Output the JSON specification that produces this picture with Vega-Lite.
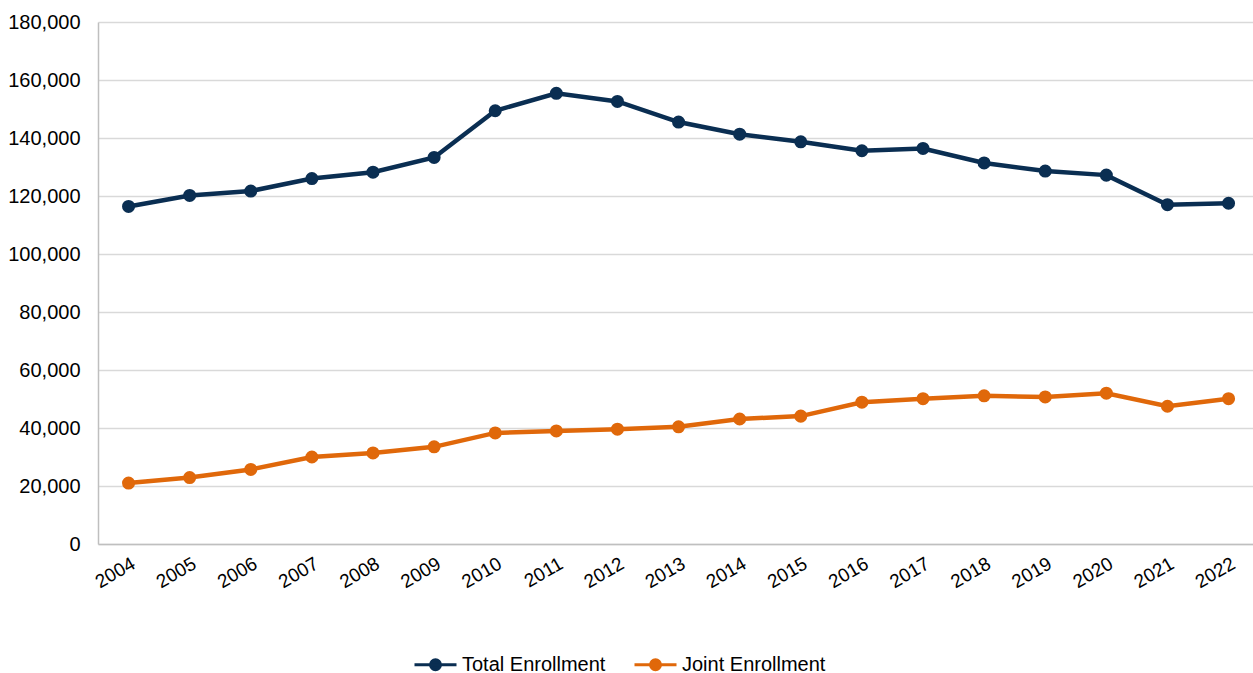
{
  "$schema": "https://vega.github.io/schema/vega-lite/v6.json",
  "autosize": {"type": "none"},
  "padding": {"left": 98, "top": 22, "right": 0, "bottom": 129},
  "width": 1155,
  "height": 522,
  "background": "white",
  "config": {"view": {"stroke": null}, "font": "Liberation Sans"},
  "data": {"values": [
    {"year": 2004, "series": "Total Enrollment", "value": 116400},
    {"year": 2005, "series": "Total Enrollment", "value": 120200},
    {"year": 2006, "series": "Total Enrollment", "value": 121700},
    {"year": 2007, "series": "Total Enrollment", "value": 126000},
    {"year": 2008, "series": "Total Enrollment", "value": 128200},
    {"year": 2009, "series": "Total Enrollment", "value": 133300},
    {"year": 2010, "series": "Total Enrollment", "value": 149400},
    {"year": 2011, "series": "Total Enrollment", "value": 155400},
    {"year": 2012, "series": "Total Enrollment", "value": 152600},
    {"year": 2013, "series": "Total Enrollment", "value": 145500},
    {"year": 2014, "series": "Total Enrollment", "value": 141300},
    {"year": 2015, "series": "Total Enrollment", "value": 138700},
    {"year": 2016, "series": "Total Enrollment", "value": 135600},
    {"year": 2017, "series": "Total Enrollment", "value": 136400},
    {"year": 2018, "series": "Total Enrollment", "value": 131400},
    {"year": 2019, "series": "Total Enrollment", "value": 128600},
    {"year": 2020, "series": "Total Enrollment", "value": 127200},
    {"year": 2021, "series": "Total Enrollment", "value": 117000},
    {"year": 2022, "series": "Total Enrollment", "value": 117500},
    {"year": 2004, "series": "Joint Enrollment", "value": 21000},
    {"year": 2005, "series": "Joint Enrollment", "value": 22900},
    {"year": 2006, "series": "Joint Enrollment", "value": 25700},
    {"year": 2007, "series": "Joint Enrollment", "value": 30000},
    {"year": 2008, "series": "Joint Enrollment", "value": 31400},
    {"year": 2009, "series": "Joint Enrollment", "value": 33500},
    {"year": 2010, "series": "Joint Enrollment", "value": 38300},
    {"year": 2011, "series": "Joint Enrollment", "value": 39000},
    {"year": 2012, "series": "Joint Enrollment", "value": 39600},
    {"year": 2013, "series": "Joint Enrollment", "value": 40400},
    {"year": 2014, "series": "Joint Enrollment", "value": 43100},
    {"year": 2015, "series": "Joint Enrollment", "value": 44100},
    {"year": 2016, "series": "Joint Enrollment", "value": 48900},
    {"year": 2017, "series": "Joint Enrollment", "value": 50100},
    {"year": 2018, "series": "Joint Enrollment", "value": 51100},
    {"year": 2019, "series": "Joint Enrollment", "value": 50700},
    {"year": 2020, "series": "Joint Enrollment", "value": 52000},
    {"year": 2021, "series": "Joint Enrollment", "value": 47500},
    {"year": 2022, "series": "Joint Enrollment", "value": 50100}
  ]},
  "encoding": {
    "x": {
      "field": "year", "type": "quantitative",
      "scale": {"domain": [2003.5, 2022.4], "nice": false, "zero": false},
      "axis": {
        "values": [2004,2005,2006,2007,2008,2009,2010,2011,2012,2013,2014,2015,2016,2017,2018,2019,2020,2021,2022],
        "format": "d", "labelAngle": -30, "ticks": false, "grid": false,
        "domainColor": "#bfbfbf", "domainWidth": 1.5,
        "labelFontSize": 19, "labelColor": "#000000", "labelPadding": 10, "title": null
      }
    },
    "y": {
      "field": "value", "type": "quantitative",
      "scale": {"domain": [0, 180000], "nice": false},
      "axis": {
        "values": [0,20000,40000,60000,80000,100000,120000,140000,160000,180000],
        "format": ",.0f", "ticks": false, "gridColor": "#d9d9d9", "gridWidth": 1.5,
        "domainColor": "#bfbfbf", "domainWidth": 1.5,
        "labelFontSize": 20, "labelColor": "#000000", "labelPadding": 18, "title": null
      }
    },
    "color": {
      "field": "series", "type": "nominal",
      "scale": {"domain": ["Total Enrollment", "Joint Enrollment"], "range": ["#0a2e52", "#e0680a"]},
      "legend": {
        "title": null, "orient": "none", "direction": "horizontal",
        "legendX": 326, "legendY": 631,
        "labelFontSize": 20, "labelColor": "#000000", "labelOffset": 15, "labelLimit": 400,
        "columnPadding": 22,
        "symbolType": "M-2.1,0L2.1,0M-0.5,0A0.5,0.5,0,1,1,0.5,0A0.5,0.5,0,1,1,-0.5,0Z",
        "symbolSize": 400, "symbolStrokeWidth": 3,
        "encode": {"symbols": {"update": {
          "fill": {"scale": "color", "field": "value"},
          "stroke": {"scale": "color", "field": "value"},
          "strokeWidth": {"value": 3},
          "opacity": {"value": 1}}}}
      }
    }
  },
  "layer": [
    {"mark": {"type": "line", "strokeWidth": 4.5}},
    {"mark": {"type": "point", "filled": true, "size": 170, "opacity": 1}}
  ]
}
